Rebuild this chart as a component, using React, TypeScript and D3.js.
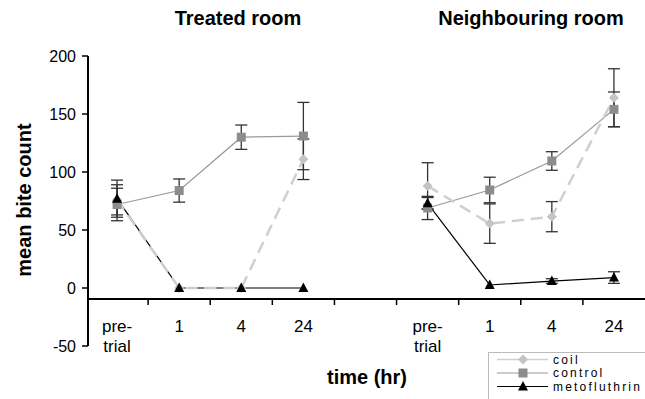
import * as d3 from "d3";

const timeLabels = ["pre-trial", "1", "4", "24"];
const rooms = ["Treated room", "Neighbouring room"];

// treated room
const treatedCoil = [76, 0, 0, 111];
const treatedCoilErr = [13, 0, 0, 17.5];
const treatedControl = [72, 84, 130, 131];
const treatedControlErr = [14, 10, 10.5, 29];
const treatedMeto = [77, 0, 0, 0];
const treatedMetoErr = [16, 0, 0, 0];

// neighbouring room
const neighCoil = [88, 55.5, 61.5, 164];
const neighCoilErr = [20, 17, 13, 25];
const neighControl = [69, 84.5, 109.5, 154];
const neighControlErr = [10, 11, 8, 15];
const neighMeto = [73, 2.6, 6, 9];
const neighMetoErr = [5, 0, 2, 5];

const yTicks = [-50, 0, 50, 100, 150, 200];

const W = 645;
const H = 399;
const FONT = "'Liberation Sans', Arial, sans-serif";

type Series = {
  name: string;
  color: string;
  fill: string;
  dash?: string;
  width: number;
  marker: "diamond" | "square" | "triangle";
  values: number[][];
  errors: number[][];
};

const series: Series[] = [
  { name: "metofluthrin", color: "#000", fill: "#000", width: 1.2, marker: "triangle", values: [treatedMeto, neighMeto], errors: [treatedMetoErr, neighMetoErr] },
  { name: "control", color: "#999", fill: "#8c8c8c", width: 1.2, marker: "square", values: [treatedControl, neighControl], errors: [treatedControlErr, neighControlErr] },
  { name: "coil", color: "#cfcfcf", fill: "#c4c4c4", dash: "12,7", width: 2.5, marker: "diamond", values: [treatedCoil, neighCoil], errors: [treatedCoilErr, neighCoilErr] },
];
const legendOrder = ["coil", "control", "metofluthrin"];
const markerOrder = ["coil", "control", "metofluthrin"];

const keys = [
  ...timeLabels.map((t) => `0-${t}`),
  "gap",
  ...timeLabels.map((t) => `1-${t}`),
];

function Marker({ kind, x, y, color }: { kind: string; x: number; y: number; color: string }) {
  if (kind === "square") return <rect x={x - 4.5} y={y - 4.5} width={9} height={9} fill={color} />;
  if (kind === "diamond") return <path d={`M${x},${y - 5}L${x + 5},${y}L${x},${y + 5}L${x - 5},${y}Z`} fill={color} />;
  return <path d={`M${x},${y - 5.5}L${x + 5},${y + 4}L${x - 5},${y + 4}Z`} fill={color} />;
}

export default function App() {
  const x = d3.scaleBand<string>().domain(keys).range([86, W]).padding(0);
  const y = d3.scaleLinear().domain([-50, 200]).range([346, 56]);
  const xAxisY = y(-9.5);
  const cx = (room: number, i: number) => (x(`${room}-${timeLabels[i]}`) as number) + x.bandwidth() / 2;

  const line = (room: number) =>
    d3.line<number>().x((_, i) => cx(room, i)).y((d) => y(d));

  const boundaries = keys.slice(1).map((k) => x(k) as number);
  const titleX = [238, 531];

  return (
    <svg width={W} height={H} style={{ position: "absolute", left: 0, top: 0, fontFamily: FONT }}>
      <rect width={W} height={H} fill="#fff" />
      {/* room titles */}
      {rooms.map((r, room) => (
        <text key={r} x={titleX[room]} y={25} textAnchor="middle" fontSize={20} fontWeight="bold">
          {r}
        </text>
      ))}

      {/* y axis */}
      <line x1={88} x2={88} y1={y(200)} y2={y(-50)} stroke="#000" strokeWidth={2} />
      {yTicks.map((t) => (
        <g key={t}>
          <line x1={82} x2={88} y1={y(t)} y2={y(t)} stroke="#000" strokeWidth={1.5} />
          <text x={76} y={y(t) + 6} textAnchor="end" fontSize={16}>{t}</text>
        </g>
      ))}
      <text transform={`translate(31,200) rotate(-90)`} textAnchor="middle" fontSize={20} fontWeight="bold">
        mean bite count
      </text>

      {/* x axis */}
      <line x1={88} x2={W} y1={xAxisY} y2={xAxisY} stroke="#000" strokeWidth={2} />
      {boundaries.map((b, i) => (
        <line key={i} x1={b} x2={b} y1={xAxisY} y2={xAxisY + 6} stroke="#000" strokeWidth={1.5} />
      ))}
      {rooms.map((r, room) =>
        timeLabels.map((t, i) =>
          t === "pre-trial" ? (
            <text key={`${room}${t}`} x={cx(room, i)} y={332} textAnchor="middle" fontSize={17}>
              <tspan x={cx(room, i)}>pre-</tspan>
              <tspan x={cx(room, i)} dy={20}>trial</tspan>
            </text>
          ) : (
            <text key={`${room}${t}`} x={cx(room, i)} y={332} textAnchor="middle" fontSize={17}>{t}</text>
          )
        )
      )}
      <text x={367} y={384} textAnchor="middle" fontSize={20} fontWeight="bold">time (hr)</text>

      {/* lines */}
      {series.map((s) =>
        [0, 1].map((room) => (
          <path key={`${s.name}${room}`} d={line(room)(s.values[room]) as string} fill="none" stroke={s.color} strokeWidth={s.width} strokeDasharray={s.dash} />
        ))
      )}
      {/* error bars */}
      {series.map((s) =>
        [0, 1].map((room) =>
          s.values[room].map((v, i) => {
            const e = s.errors[room][i];
            if (!e) return null;
            const px = cx(room, i);
            return (
              <g key={`${s.name}${room}${i}`} stroke="#333" strokeWidth={1.3}>
                <line x1={px} x2={px} y1={y(v + e)} y2={y(v - e)} />
                <line x1={px - 6} x2={px + 6} y1={y(v + e)} y2={y(v + e)} />
                <line x1={px - 6} x2={px + 6} y1={y(v - e)} y2={y(v - e)} />
              </g>
            );
          })
        )
      )}
      {/* markers */}
      {markerOrder.map((name) => {
        const s = series.find((d) => d.name === name)!;
        return [0, 1].map((room) =>
          s.values[room].map((v, i) => (
            <Marker key={`${s.name}${room}${i}m`} kind={s.marker} x={cx(room, i)} y={y(v)} color={s.fill} />
          ))
        );
      })}

      {/* legend */}
      <rect x={488.5} y={352.5} width={160} height={50} fill="#fff" stroke="#bbb" />
      {legendOrder.map((name, i) => {
        const s = series.find((d) => d.name === name)!;
        const ly = 359.5 + i * 13.5;
        return (
          <g key={name}>
            <line x1={497} x2={548} y1={ly} y2={ly} stroke={s.color} strokeWidth={name === "coil" ? 1.5 : 1.2} />
            <Marker kind={s.marker} x={523} y={ly} color={s.fill} />
            <text x={553} y={ly + 4.2} fontSize={12} letterSpacing={2.2}>{name}</text>
          </g>
        );
      })}
    </svg>
  );
}
